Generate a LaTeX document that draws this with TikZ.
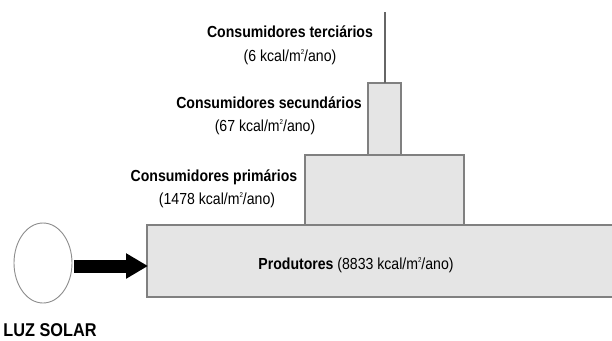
\documentclass[tikz,border=0pt]{standalone}
\usepackage{fontspec}
\setmainfont[FakeStretch=0.88]{Liberation Sans}
\usetikzlibrary{shapes.geometric,arrows.meta}
\newcommand{\mysq}{\raisebox{0.75ex}{\fontsize{7}{7}\selectfont 2}}
\begin{document}
\begin{tikzpicture}[x=1pt,y=-1pt,
  level/.style={draw=black!50,fill=black!10,line width=1.3pt},
  lbl/.style={font=\fontsize{16}{18}\selectfont,align=center,inner sep=0pt},
  sun/.style={draw=black!45,line width=0.9pt,ellipse,minimum width=58pt,minimum height=80pt,inner sep=0pt},
  big/.style={-{Triangle[length=22pt,width=24pt]},line width=13pt}]
\useasboundingbox (0,0) rectangle (612,340);
% levels
\draw[level] (147,225) rectangle (616,297);
\draw[level] (305,155) rectangle (464,225);
\draw[level] (368,83) rectangle (401,155);
\coordinate (top) at (385,12);
\coordinate (apex) at (385,83);
\draw[black!60,line width=1.2pt] (apex) -- (top);
% sun
\node[sun] (sol) at (43,263) {};
\node[font=\fontsize{18.5}{20}\selectfont\bfseries,anchor=base,inner sep=0pt] (luz) at (50,336) {LUZ SOLAR};
\coordinate (arrS) at (74,266);
\coordinate (prodW) at (148,266);
\draw[big] (arrS) -- (prodW);
% labels
\node[lbl] (t1) at (290,32) {\textbf{Consumidores terciários}};
\node[lbl] (t2) at (290,57) {(6 kcal/m\mysq/ano)};
\node[lbl] (s1) at (269,103) {\textbf{Consumidores secundários}};
\node[lbl] (s2) at (265,127) {(67 kcal/m\mysq/ano)};
\node[lbl] (p1) at (214,177) {\textbf{Consumidores primários}};
\node[lbl] (p2) at (217,200) {(1478 kcal/m\mysq/ano)};
\node[lbl] (pr) at (356,265) {\textbf{Produtores} (8833 kcal/m\mysq/ano)};
\end{tikzpicture}
\end{document}
